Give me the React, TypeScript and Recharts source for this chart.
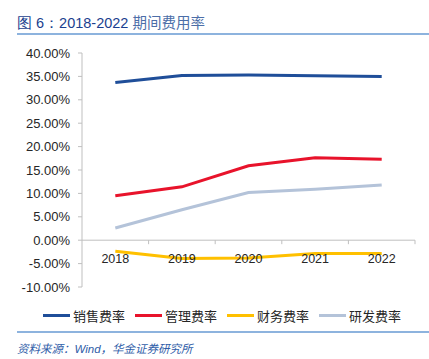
import { LineChart, Line, XAxis, YAxis, ReferenceLine } from "recharts";

const years = [2018, 2019, 2020, 2021, 2022];
const salesRate = [33.7, 35.2, 35.3, 35.15, 35.0];
const adminRate = [9.5, 11.4, 15.9, 17.6, 17.3];
const financeRate = [-2.35, -3.9, -3.8, -2.85, -2.85];
const rdRate = [2.6, 6.5, 10.2, 10.9, 11.8];
const yTicks = [-10, -5, 0, 5, 10, 15, 20, 25, 30, 35, 40];
const categoryEdges = [2018.5, 2019.5, 2020.5, 2021.5, 2022.5];

const series = [
  { key: "sales", name: "销售费率", color: "#1F4E99" },
  { key: "admin", name: "管理费率", color: "#E8132B" },
  { key: "finance", name: "财务费率", color: "#FFC000" },
  { key: "rd", name: "研发费率", color: "#B4C3D9" },
];

const data = years.map((year, i) => ({
  year,
  sales: salesRate[i],
  admin: adminRate[i],
  finance: financeRate[i],
  rd: rdRate[i],
}));

const AXIS_GREY = "#BFBFBF";
const LABEL_FONT = "'Liberation Sans', Arial, sans-serif";
const CJK_FONT = "'Noto Sans CJK SC', 'Liberation Sans', sans-serif";

function YearTick({ x, y, payload }: any) {
  return (
    <text
      x={x}
      y={y}
      dy={-32}
      textAnchor="middle"
      fill="#262626"
      fontSize={12.5}
      fontFamily={LABEL_FONT}
    >
      {payload.value}
    </text>
  );
}

export default function App() {
  return (
    <div
      style={{
        position: "absolute",
        left: 0,
        top: 0,
        width: 429,
        height: 359,
        background: "#fff",
        overflow: "hidden",
      }}
    >
      <div
        style={{
          position: "absolute",
          left: 17,
          top: 12,
          fontFamily: CJK_FONT,
          fontSize: 14.5,
          lineHeight: "20px",
          whiteSpace: "nowrap",
        }}
      >
        <span style={{ color: "#1B3F8F", fontFamily: LABEL_FONT, fontWeight: 500 }}>
          图 6：2018-2022{" "}
        </span>
        <span style={{ color: "#4C6EA8" }}>期间费用率</span>
      </div>
      <div
        style={{
          position: "absolute",
          left: 17,
          right: 0,
          top: 33,
          height: 2,
          background: "#8DB3DE",
        }}
      />

      <div style={{ position: "absolute", left: 0, top: 0 }}>
        <LineChart
          width={429}
          height={300}
          data={data}
          margin={{ top: 53, right: 14, bottom: 12, left: 0 }}
        >
          <XAxis
            dataKey="year"
            type="number"
            domain={[2017.5, 2022.5]}
            ticks={years}
            axisLine={false}
            tickLine={false}
            height={1}
            tick={<YearTick />}
            interval={0}
          />
          <YAxis
            domain={[-10, 40]}
            ticks={yTicks}
            width={82}
            axisLine={{ stroke: AXIS_GREY }}
            tickLine={{ stroke: AXIS_GREY }}
            tickSize={4}
            tickMargin={8}
            tick={{ fill: "#262626", fontSize: 13, fontFamily: LABEL_FONT }}
            tickFormatter={(v: number) => `${v.toFixed(2)}%`}
            interval={0}
          />
          <ReferenceLine y={0} stroke={AXIS_GREY} />
          {categoryEdges.map((edge) => (
            <ReferenceLine
              key={edge}
              segment={[
                { x: edge, y: 0 },
                { x: edge, y: -0.85 },
              ]}
              stroke={AXIS_GREY}
            />
          ))}
          {series.map((s) => (
            <Line
              key={s.key}
              dataKey={s.key}
              name={s.name}
              type="linear"
              stroke={s.color}
              strokeWidth={3}
              dot={false}
              isAnimationActive={false}
            />
          ))}
        </LineChart>
      </div>

      <div
        style={{
          position: "absolute",
          left: 43,
          top: 306,
          display: "flex",
          alignItems: "center",
          fontFamily: CJK_FONT,
          fontSize: 13,
          color: "#262626",
          whiteSpace: "nowrap",
        }}
      >
        {series.map((s) => (
          <div key={s.key} style={{ display: "flex", alignItems: "center", marginRight: 10 }}>
            <span
              style={{
                display: "inline-block",
                width: 27,
                height: 3,
                background: s.color,
                marginRight: 3,
              }}
            />
            <span>{s.name}</span>
          </div>
        ))}
      </div>

      <div
        style={{
          position: "absolute",
          left: 17,
          right: 0,
          top: 331,
          height: 2,
          background: "#8DB3DE",
        }}
      />
      <div
        style={{
          position: "absolute",
          left: 17,
          top: 340,
          fontFamily: CJK_FONT,
          fontSize: 11.5,
          fontStyle: "italic",
          color: "#2F5DA8",
          whiteSpace: "nowrap",
          lineHeight: "16px",
        }}
      >
        资料来源：<span style={{ fontFamily: LABEL_FONT }}>Wind</span>，华金证券研究所
      </div>
    </div>
  );
}
